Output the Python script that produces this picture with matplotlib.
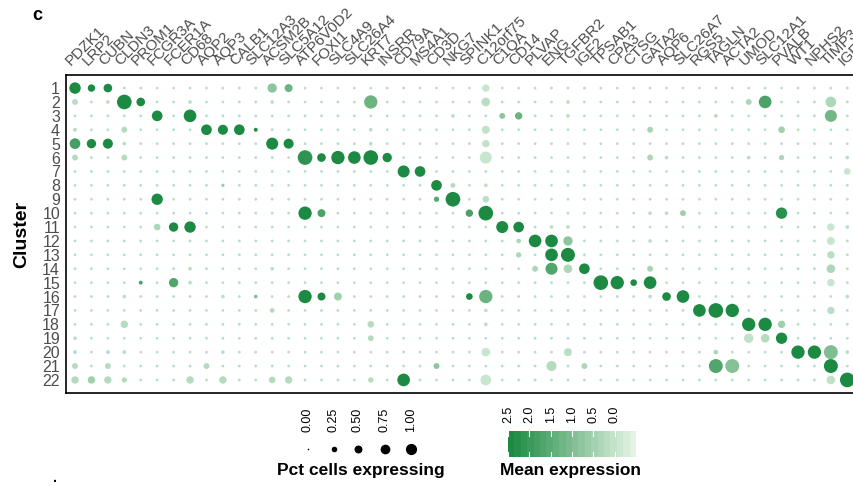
import numpy as np
import matplotlib
matplotlib.use('Agg')
import matplotlib.pyplot as plt
from matplotlib.colors import LinearSegmentedColormap, Normalize
from matplotlib.transforms import ScaledTranslation, blended_transform_factory

plt.rcParams['font.family'] = ['Liberation Sans', 'DejaVu Sans']

genes = ['PDZK1', 'LRP2', 'CUBN', 'CLDN3', 'PROM1', 'FCGR3A', 'FCER1A', 'CD68',
         'AQP2', 'AQP3', 'CALB1', 'SLC12A3', 'ACSM2B', 'SLC5A12', 'ATP6V0D2',
         'FOXI1', 'SLC4A9', 'SLC26A4', 'KRT7', 'INSRR', 'CD79A', 'MS4A1', 'CD3D',
         'NKG7', 'SPINK1', 'C12orf75', 'C1QA', 'CD14', 'PLVAP', 'ENG', 'TGFBR2',
         'IGF2', 'TPSAB1', 'CPA3', 'CTSG', 'GATA2', 'AQP6', 'SLC26A7', 'RGS5',
         'TAGLN', 'ACTA2', 'UMOD', 'SLC12A1', 'PVALB', 'WT1', 'NPHS2', 'TIMP3',
         'IGFBP7']
clusters = list(range(1, 23))

# petits points pâles partout (valeurs de fond)
base_pct = 0.035
base_expr = 0.1

# points visibles par cluster : (gène, pct, expression moyenne)
c01 = [('PDZK1', .60, 2.5), ('LRP2', .25, 2.5), ('CUBN', .34, 2.5), ('ACSM2B', .40, 0.8),
       ('SLC5A12', .29, 1.3), ('C12orf75', .25, -0.1)]
c02 = [('PDZK1', .16, 0.1), ('CUBN', .06, 0.1), ('CLDN3', .98, 2.5), ('PROM1', .34, 2.5),
       ('CD68', .06, 0.1), ('ACSM2B', .06, 0.1), ('KRT7', .81, 1.3), ('C12orf75', .34, 0.1),
       ('TGFBR2', .06, 0.1), ('UMOD', .16, 0.3), ('SLC12A1', .73, 1.8), ('TIMP3', .52, 0.3)]
c03 = [('FCGR3A', .52, 2.5), ('CD68', .73, 2.5), ('NKG7', .06, 0.1), ('C1QA', .16, 0.8),
       ('CD14', .25, 1.3), ('TGFBR2', .06, 0.1), ('TAGLN', .06, 0.2), ('TIMP3', .66, 1.2)]
c04 = [('PDZK1', .07, 0.1), ('CLDN3', .16, 0.2), ('AQP2', .52, 2.5), ('AQP3', .46, 2.5),
       ('CALB1', .52, 2.5), ('SLC12A3', .07, 2.5), ('KRT7', .06, 0.1), ('C12orf75', .29, 0.0),
       ('GATA2', .16, 0.4), ('PVALB', .20, 0.5)]
c05 = [('PDZK1', .52, 1.9), ('LRP2', .40, 2.5), ('CUBN', .46, 2.5), ('CLDN3', .06, 0.1),
       ('ACSM2B', .66, 2.5), ('SLC5A12', .46, 2.5), ('KRT7', .06, 0.1), ('C12orf75', .25, 0.0)]
c06 = [('PDZK1', .16, 0.2), ('CLDN3', .16, 0.2), ('ATP6V0D2', .98, 2.2), ('FOXI1', .34, 2.5),
       ('SLC4A9', .81, 2.5), ('SLC26A4', .73, 2.5), ('KRT7', .98, 2.5), ('INSRR', .40, 2.5),
       ('C12orf75', .66, -0.1), ('GATA2', .16, 0.3), ('AQP6', .06, 0.1), ('UMOD', .06, 0.1),
       ('PVALB', .13, 0.3), ('IGFBP7', .06, 0.1)]
c07 = [('CD79A', .66, 2.5), ('MS4A1', .52, 2.5), ('IGFBP7', .20, -0.1)]
c08 = [('AQP3', .05, 0.6), ('CD3D', .52, 2.5), ('NKG7', .10, 0.2), ('C12orf75', .06, 0.1)]
c09 = [('FCGR3A', .59, 2.5), ('CD3D', .13, 1.6), ('NKG7', .98, 2.5), ('C12orf75', .20, 0.1)]
c10 = [('ATP6V0D2', .81, 2.5), ('FOXI1', .29, 1.8), ('SPINK1', .25, 1.8), ('C12orf75', .98, 2.5),
       ('GATA2', .06, 0.1), ('AQP6', .06, 0.1), ('SLC26A7', .16, 0.5), ('PVALB', .59, 2.3)]
c11 = [('FCGR3A', .20, 0.3), ('FCER1A', .40, 2.5), ('CD68', .59, 2.5), ('C1QA', .66, 2.5),
       ('CD14', .52, 2.5), ('ENG', .06, 0.1), ('TGFBR2', .06, 0.1), ('TIMP3', .25, -0.1),
       ('IGFBP7', .06, 0.1)]
c12 = [('CD14', .10, 0.3), ('PLVAP', .73, 2.5), ('ENG', .73, 2.5), ('TGFBR2', .40, 0.8),
       ('GATA2', .06, 0.1), ('TIMP3', .29, -0.1)]
c13 = [('CD14', .13, 0.3), ('ENG', .73, 2.5), ('TGFBR2', .89, 2.5), ('TIMP3', .25, 0.1)]
c14 = [('CD68', .06, 0.1), ('ACSM2B', .06, 0.1), ('PLVAP', .16, 0.3), ('ENG', .66, 1.7),
       ('TGFBR2', .34, 0.3), ('IGF2', .52, 2.5), ('GATA2', .16, 0.4), ('TIMP3', .34, 0.3)]
c15 = [('PROM1', .07, 1.8), ('FCER1A', .40, 1.7), ('CD68', .06, 0.1), ('TPSAB1', .98, 2.5),
       ('CPA3', .81, 2.5), ('CTSG', .20, 2.5), ('GATA2', .73, 2.5), ('TIMP3', .25, -0.1)]
c16 = [('CLDN3', .06, 0.1), ('AQP3', .06, 0.1), ('SLC12A3', .06, 1.0), ('ATP6V0D2', .81, 2.5),
       ('FOXI1', .29, 2.5), ('SLC4A9', .29, 0.5), ('SPINK1', .20, 2.5), ('C12orf75', .81, 1.3),
       ('GATA2', .06, 0.1), ('AQP6', .34, 2.5), ('SLC26A7', .73, 2.5), ('IGFBP7', .06, 0.1)]
c17 = [('ACSM2B', .10, 0.2), ('C12orf75', .06, 0.1), ('RGS5', .73, 2.5), ('TAGLN', .98, 2.5),
       ('ACTA2', .81, 2.5), ('TIMP3', .25, 0.1)]
c18 = [('CLDN3', .25, 0.2), ('KRT7', .20, 0.2), ('C12orf75', .06, 0.1), ('UMOD', .81, 2.5),
       ('SLC12A1', .81, 2.5), ('PVALB', .25, 0.5)]
c19 = [('PDZK1', .06, 0.1), ('KRT7', .16, 0.2), ('UMOD', .40, 0.0), ('SLC12A1', .34, 0.2),
       ('PVALB', .59, 2.5)]
c20 = [('PDZK1', .07, 0.1), ('CUBN', .07, 0.1), ('CLDN3', .07, 0.1), ('AQP3', .06, 0.1),
       ('C12orf75', .34, -0.1), ('TGFBR2', .29, 0.1), ('TAGLN', .10, 0.3), ('WT1', .81, 2.5),
       ('NPHS2', .81, 2.5), ('TIMP3', .89, 1.0), ('IGFBP7', .06, 0.1)]
c21 = [('PDZK1', .16, 0.2), ('CUBN', .16, 0.2), ('AQP2', .16, 0.2), ('CD3D', .16, 0.8),
       ('ENG', .46, 0.2), ('IGF2', .16, 0.3), ('TAGLN', .89, 1.7), ('ACTA2', .89, 0.9),
       ('TIMP3', .89, 2.5)]
c22 = [('PDZK1', .25, 0.2), ('LRP2', .25, 0.5), ('CUBN', .25, 0.2), ('CLDN3', .13, 0.2),
       ('CD68', .25, 0.2), ('AQP3', .25, 0.2), ('ACSM2B', .20, 0.2), ('SLC5A12', .25, 0.2),
       ('KRT7', .13, 0.2), ('CD79A', .73, 2.5), ('C12orf75', .52, -0.1), ('TIMP3', .34, 0.0),
       ('IGFBP7', .98, 2.5)]
marks = [c01, c02, c03, c04, c05, c06, c07, c08, c09, c10, c11,
         c12, c13, c14, c15, c16, c17, c18, c19, c20, c21, c22]

pct_ticks = [0.00, 0.25, 0.50, 0.75, 1.00]
expr_ticks = [2.5, 2.0, 1.5, 1.0, 0.5, 0.0]
expr_min, expr_max = -0.5, 2.5

# matrices complètes
pct = np.full((len(clusters), len(genes)), base_pct)
expr = np.full((len(clusters), len(genes)), base_expr)
for i, rows in enumerate(marks):
    for g, p, e in rows:
        j = genes.index(g)
        pct[i, j] = p
        expr[i, j] = e

cmap = LinearSegmentedColormap.from_list('grn', ['#e2f3e3', '#1c8a42'])
norm = Normalize(expr_min, expr_max)

W, H = 854, 486
fig = plt.figure(figsize=(W / 100, H / 100), dpi=100)

# zone du dot plot (en pixels)
left, top, right, bottom = 66.3, 75, 856, 393
ax = fig.add_axes([left / W, 1 - bottom / H, (right - left) / W, (bottom - top) / H])

jj, ii = np.meshgrid(np.arange(len(genes)), np.arange(len(clusters)))
r_px = 7.4 * np.sqrt(pct)
sizes = (2 * r_px * 0.72) ** 2
ax.scatter(jj.ravel(), (ii + 1).ravel(), s=sizes.ravel(), c=expr.ravel(),
           cmap=cmap, norm=norm, linewidths=0, zorder=3)

ax.set_xlim(-0.53, len(genes) - 0.47)
ax.set_ylim(len(clusters) + 0.94, 0.06)
ax.set_xticks([])
ax.set_yticks(clusters)
ax.set_yticklabels([str(c) for c in clusters], fontsize=11.5, color='#4d4d4d')
ax.tick_params(axis='y', length=0, pad=4.5)
for s in ax.spines.values():
    s.set_linewidth(1.2)
    s.set_color('black')

# noms des gènes en haut, inclinés
tr = blended_transform_factory(ax.transData, ax.transAxes) + \
    ScaledTranslation(-0.04, 0.09, fig.dpi_scale_trans)
for j, g in enumerate(genes):
    ax.text(j, 1.0, g, transform=tr, rotation=45, ha='left', va='baseline',
            rotation_mode='anchor', fontsize=11, color='#4d4d4d', clip_on=False)

fig.text(22 / W, 1 - 234 / H, 'Cluster', rotation=90, ha='center', va='center',
         fontsize=14, fontweight='bold')
fig.text(37 / W, 1 - 15 / H, 'c', ha='center', va='center', fontsize=13, fontweight='bold')
fig.text(55 / W, 1 - 478 / H, '.', ha='center', va='center', fontsize=10, fontweight='bold')

# légendes, dessinées en pixels
lax = fig.add_axes([0, 0, 1, 1], zorder=-1)
lax.set_xlim(0, W)
lax.set_ylim(H, 0)
lax.axis('off')

leg_x = [308, 334, 358, 385, 411]
for x, p in zip(leg_x, pct_ticks):
    r = max(5.6 * np.sqrt(p), 0.8)
    lax.scatter([x], [449], s=(2 * r * 0.72) ** 2, color='black', linewidths=0)
    lax.text(x, 432, f'{p:.2f}', rotation=90, ha='center', va='bottom', fontsize=9)
lax.text(361, 470, 'Pct cells expressing', ha='center', va='center',
         fontsize=12.5, fontweight='bold')

cb_l, cb_r, cb_t, cb_b = 508, 636, 431, 457
grad = np.linspace(expr_max, expr_min, 20).reshape(1, -1)
lax.imshow(grad, cmap=cmap, norm=norm, aspect='auto', interpolation='nearest',
           extent=[cb_l, cb_r, cb_b, cb_t])
for v in expr_ticks:
    x = cb_l + (expr_max - v) / (expr_max - expr_min) * (cb_r - cb_l)
    lax.plot([x, x], [cb_t, cb_t + 5], color='white', lw=0.8)
    lax.plot([x, x], [cb_b - 5, cb_b], color='white', lw=0.8)
    lax.text(x, 423, f'{v:.1f}', rotation=90, ha='center', va='bottom', fontsize=9)
lax.set_xlim(0, W)
lax.set_ylim(H, 0)
lax.text(571, 470, 'Mean expression', ha='center', va='center',
         fontsize=12.5, fontweight='bold')

fig.savefig('out.png', dpi=100)
